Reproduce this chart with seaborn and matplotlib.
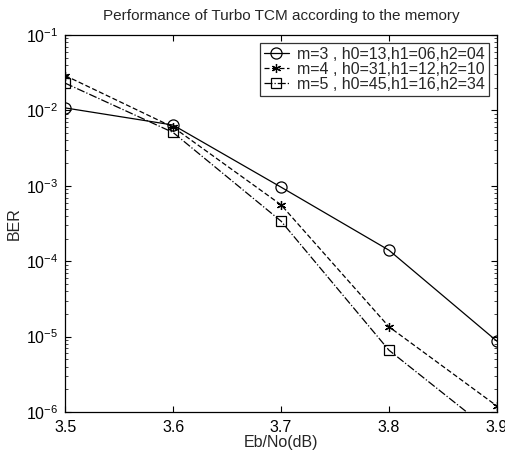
import numpy as np
import pandas as pd
import matplotlib
matplotlib.use("Agg")
import matplotlib.pyplot as plt
import seaborn as sns

# Eb/No points and BER for each memory value
ebno = [3.5, 3.6, 3.7, 3.8, 3.9]
ber_m3 = [1.08e-2, 6.4e-3, 9.6e-4, 1.4e-4, 8.7e-6]
ber_m4 = [2.9e-2, 6.0e-3, 5.6e-4, 1.35e-5, 1.2e-6]
ber_m5 = [2.3e-2, 5.1e-3, 3.4e-4, 6.6e-6, 4.8e-7]
labels = ["m=3 , h0=13,h1=06,h2=04",
          "m=4 , h0=31,h1=12,h2=10",
          "m=5 , h0=45,h1=16,h2=34"]

sns.set_theme(style="ticks")
plt.rcParams['font.family'] = ['Liberation Sans', 'DejaVu Sans']
plt.rcParams['xtick.direction'] = 'in'
plt.rcParams['ytick.direction'] = 'in'
plt.rcParams['xtick.top'] = True
plt.rcParams['ytick.right'] = True

fig = plt.figure(figsize=(5.05, 4.55), dpi=100)
ax = fig.add_axes([0.129, 0.0945, 0.855, 0.8285])

styles = [
    dict(ls='-', marker='o', ms=8),
    dict(ls=(0, (4, 2)), marker=(6, 2, 0), ms=6.5),
    dict(ls='-.', marker='s', ms=6.5),
]
for ber, lab, st in zip([ber_m3, ber_m4, ber_m5], labels, styles):
    sns.lineplot(x=ebno, y=ber, ax=ax, color='black', lw=0.9,
                 linestyle=st['ls'], marker=st['marker'], markersize=st['ms'],
                 markerfacecolor='none', markeredgecolor='black',
                 markeredgewidth=0.9, label=lab)

ax.set_yscale('log')
ax.set_xlim(3.5, 3.9)
ax.set_ylim(1e-6, 1e-1)
ax.set_xticks(ebno)
ax.set_xticklabels(['3.5', '3.6', '3.7', '3.8', '3.9'])
ax.set_yticks([1e-6, 1e-5, 1e-4, 1e-3, 1e-2, 1e-1])
ax.tick_params(axis='both', which='major', labelsize=11.5, length=4, width=0.8,
               colors='black')
ax.tick_params(axis='x', which='major', pad=6)
ax.tick_params(axis='y', which='major', pad=5)
ax.tick_params(axis='y', which='minor', length=2, width=0.6)
for sp in ax.spines.values():
    sp.set_visible(True)
    sp.set_color('black')
    sp.set_linewidth(0.9)

ax.set_xlabel('Eb/No(dB)', fontsize=11.5, labelpad=0)
ax.set_ylabel('BER', fontsize=11.5, labelpad=3)
ax.set_title('Performance of Turbo TCM according to the memory', fontsize=11, pad=11)

leg = ax.legend(loc='upper right', fontsize=11.5, frameon=True, fancybox=False,
                edgecolor='black', handlelength=1.6, handletextpad=0.5,
                labelspacing=0.0, borderpad=0.25, borderaxespad=0.5)
leg.get_frame().set_linewidth(0.9)

fig.savefig('out.png', dpi=100)
